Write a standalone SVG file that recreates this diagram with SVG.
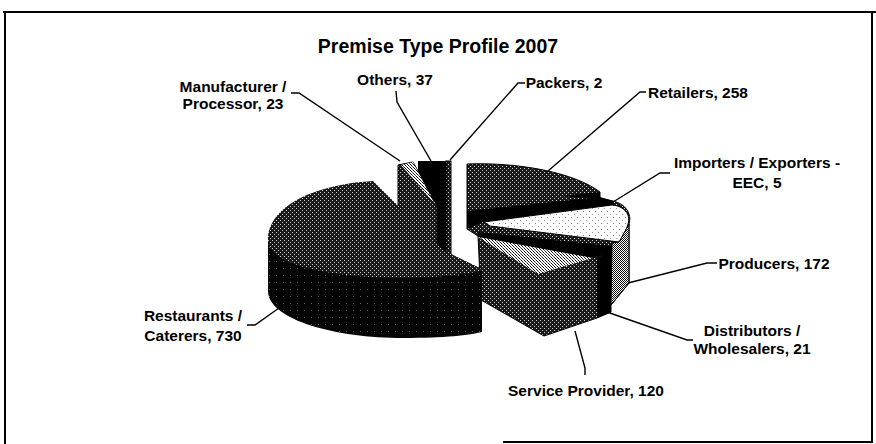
<svg xmlns="http://www.w3.org/2000/svg" width="876" height="444" viewBox="0 0 876 444">
<defs>
<pattern id="pDark" width="4" height="4" patternUnits="userSpaceOnUse">
<rect width="4" height="4" fill="#1a1a1a"/>
<rect x="0" y="0" width="1" height="1" fill="#d0d0d0"/>
<rect x="2" y="2" width="1" height="1" fill="#d0d0d0"/>
</pattern>
<pattern id="pLight" width="3" height="3" patternUnits="userSpaceOnUse">
<rect width="3" height="3" fill="#ffffff"/>
<rect x="0" y="0" width="1" height="1" fill="#111"/>
<rect x="1" y="1" width="1" height="1" fill="#555"/>
<rect x="2" y="2" width="1" height="1" fill="#111"/>
</pattern>
<pattern id="pCheck" width="2" height="2" patternUnits="userSpaceOnUse">
<rect width="2" height="2" fill="#ffffff"/>
<rect x="0" y="0" width="1" height="1" fill="#111"/>
<rect x="1" y="1" width="1" height="1" fill="#111"/>
</pattern>
<pattern id="pDots" width="6" height="6" patternUnits="userSpaceOnUse">
<rect width="6" height="6" fill="#ffffff"/>
<rect x="1" y="1" width="1" height="1" fill="#777"/>
<rect x="4" y="4" width="1" height="1" fill="#999"/>
</pattern>
<pattern id="pSide" width="7" height="7" patternUnits="userSpaceOnUse">
<rect width="7" height="7" fill="#050505"/>
<rect x="3" y="2" width="1" height="1" fill="#666"/>
</pattern>
</defs>
<style>
text{font-family:"Liberation Sans",Arial,sans-serif;font-weight:bold;fill:#000;text-anchor:middle}
.lbl{font-size:15.5px}
.ttl{font-size:19.5px}
.lead{fill:none;stroke:#000;stroke-width:1.4}
.frame{stroke:#000;stroke-width:2;fill:none}
.edge{stroke:#000;stroke-width:1}
</style>

<g id="frame">
<line class="frame" x1="3" y1="12" x2="876" y2="12"/>
<line class="frame" x1="5" y1="12" x2="5" y2="444"/>
<line class="frame" x1="872" y1="12" x2="872" y2="442"/>
<line class="frame" x1="503" y1="442" x2="873" y2="442"/>
</g>

<text id="title" class="ttl" x="438" y="53">Premise Type Profile 2007</text>

<g id="others">
<rect x="418" y="161" width="28" height="95" fill="#000"/>
</g>
<g id="packers">
<rect x="446" y="161" width="5" height="95" fill="url(#pDark)" class="edge"/>
</g>
<g id="manufacturer">
<polygon points="398,165 413,162 437,205 437,252 398,252" fill="url(#pDark)" class="edge"/>
<polygon points="401,165 413,162 434,203" fill="url(#pLight)"/>
</g>

<g id="cluster">
<path d="M467,164 C520,162 575,173 600,192 L600,198 L613,201 C626,204 632,214 629,224 L629,283 L611,305 L611,312 L597,318 L544,336 L481,300 L478,236 L467,229 Z" fill="url(#pDark)" class="edge"/>
</g>
<g id="retailers">
<polygon points="560,196 600,192 600,199" fill="#000"/>
<polygon points="467,211 600,197 613,201 613,205 483,222 467,229" fill="#000"/>
</g>
<g id="importers">
<polygon points="600,199 613,201 613,205 600,203" fill="#000"/>
</g>
<g id="producers">
<path d="M484,222 L612,205 C624,206 631,214 628,224 C626,232 622,238 619,242 L490,226 Z" fill="url(#pDots)" class="edge"/>
<polygon points="612,243 619,242 629,224 629,283 611,305" fill="url(#pCheck)" class="edge"/>
</g>
<g id="service">
<polygon points="478,232 612,246 612,252 593,258 478,237" fill="#000"/>
<polygon points="478,237 593,258 538,274" fill="url(#pLight)"/>
</g>
<g id="distributors">
<polygon points="597,258 611,250 611,312 597,318" fill="#000"/>
</g>

<g id="restaurants">
<path d="M268,238 L268,292 C270,320 335,338 403,338 C445,338 470,335 482,332 L482,268 Z" fill="url(#pSide)"/>
<path d="M373,181 C310,185 268,208 268,240 C268,262 318,277 400,278 C440,278 465,274 482,271 L482,269 L443,250 Z" fill="url(#pDark)"/>
</g>

<g id="connectors">
<polyline class="lead" points="291,93 299,93 400,161"/>
<polyline class="lead" points="396,91 397,102 431,161"/>
<polyline class="lead" points="525,83 518,83 450,160"/>
<polyline class="lead" points="646,92 640,92 548,171"/>
<polyline class="lead" points="670,173 660,173 613,202"/>
<polyline class="lead" points="717,263 707,263 628,283"/>
<polyline class="lead" points="607,312 687,340 693,340"/>
<polyline class="lead" points="575,331 585,368 585,375"/>
<polyline class="lead" points="247,325 255,325 279,308"/>
</g>

<g id="labels">
<text class="lbl" x="233" y="92">Manufacturer /</text>
<text class="lbl" x="233" y="109">Processor, 23</text>
<text class="lbl" x="395" y="85">Others, 37</text>
<text class="lbl" x="564" y="88">Packers, 2</text>
<text class="lbl" x="698" y="98">Retailers, 258</text>
<text class="lbl" x="757" y="168">Importers / Exporters -</text>
<text class="lbl" x="757" y="188">EEC, 5</text>
<text class="lbl" x="774" y="269">Producers, 172</text>
<text class="lbl" x="752" y="336">Distributors /</text>
<text class="lbl" x="752" y="354">Wholesalers, 21</text>
<text class="lbl" x="193" y="321">Restaurants /</text>
<text class="lbl" x="193" y="341">Caterers, 730</text>
<text class="lbl" x="586" y="396">Service Provider, 120</text>
</g>
</svg>
